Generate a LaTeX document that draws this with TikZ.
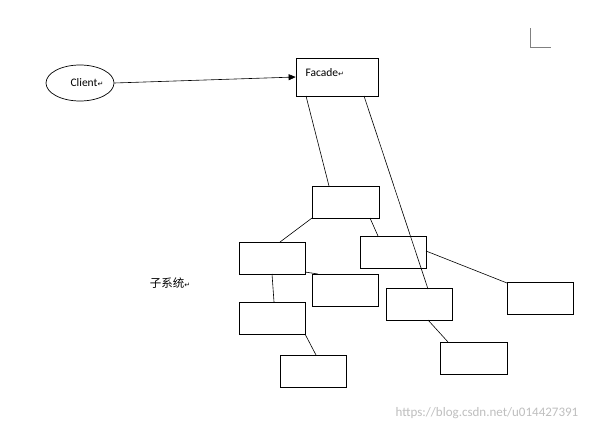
\documentclass[tikz,border=0pt]{standalone}
\usepackage{fontspec}
\setmainfont{Carlito}
\newfontfamily\cjk{Noto Sans CJK SC}
\newfontfamily\djv{DejaVu Sans}
\usetikzlibrary{arrows.meta,shapes.geometric}
\begin{document}
\begin{tikzpicture}[x=1pt,y=-1pt,
  bx/.style={draw,line width=0.7pt,minimum width=66pt,minimum height=32pt,inner sep=0pt},
  ln/.style={line width=0.6pt}]
\useasboundingbox[fill=white] (0,0) rectangle (610,434);
\draw[line width=0.6pt,black!50] (530,28) -- (530,47) -- (551,47);
\node[draw,ellipse,line width=0.7pt,minimum width=68pt,minimum height=36pt,inner sep=0pt] (client) at (80,83) {};
\node[font=\fontsize{11.5}{13}\selectfont] at (87,83) {Client{\djv\fontsize{7}{8}\selectfont↵}};
\node[bx,minimum width=82pt,minimum height=38pt] (fac) at (337,77) {};
\node[anchor=west,font=\fontsize{11.5}{13}\selectfont] at (302,73) {Facade{\djv\fontsize{7}{8}\selectfont↵}};
\draw[ln,-{Triangle[length=7pt,width=6pt]}] (client.east) -- (fac.west);
\node[bx,minimum width=67pt] (a) at (345.5,202) {};
\node[bx] (b) at (272,258) {};
\node[bx] (c) at (393,252) {};
\node[bx] (d) at (345,290) {};
\node[bx] (e) at (272,318) {};
\node[bx] (f) at (419,304.5) {};
\node[bx] (g) at (540,298) {};
\node[bx] (h) at (313,371) {};
\node[bx,minimum width=67pt] (i) at (473.5,358) {};
\draw[ln] (306,96) -- (329,186);
\draw[ln] (364,96) -- (428,289);
\draw[ln] (312,218) -- (280,242);
\draw[ln] (370,218) -- (378,236);
\draw[ln] (305,272) -- (318,274);
\draw[ln] (272,274) -- (274,302);
\draw[ln] (305,334) -- (316,355);
\draw[ln] (426,251) -- (507,283);
\draw[ln] (428,320) -- (448,342);
\node[font=\cjk\fontsize{11.5}{13}\selectfont] at (170,283) {子系统{\djv\fontsize{7}{8}\selectfont↵}};
\node[text=black!25,font=\fontsize{13}{15}\selectfont] at (487,413) {https://blog.csdn.net/u014427391};
\end{tikzpicture}
\end{document}
